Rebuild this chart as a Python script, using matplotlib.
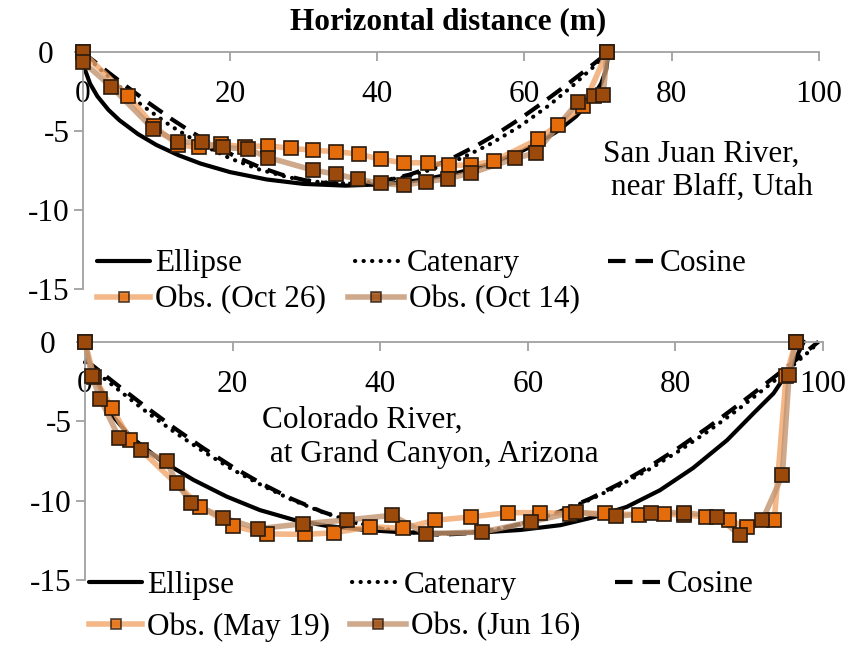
import matplotlib.pyplot as plt
from matplotlib.lines import Line2D

plt.rcParams['font.family'] = 'serif'
plt.rcParams['font.serif'] = ['Liberation Serif', 'DejaVu Serif']
plt.rcParams['axes.unicode_minus'] = False

W, H = 847, 650
FS = 22.5

# ---- San Juan River (top panel) ----
sj_ell_x = [0, 0.3, 1, 2, 3.5, 5, 7.5, 10, 13, 16, 20, 25, 30, 35.7, 41, 46, 51, 55, 59, 62, 64.5, 67, 69, 70.4, 71.1, 71.4]
sj_ell_y = [0, -1.09, -1.99, -2.79, -3.65, -4.31, -5.18, -5.87, -6.52, -7.05, -7.59, -8.06, -8.34, -8.45,
            -8.36, -8.09, -7.63, -7.11, -6.40, -5.71, -4.99, -4.06, -3.05, -1.99, -1.09, 0]
sj_cat_x = [0, 2, 5, 8, 12, 16, 20, 24, 28, 32, 35.7, 39.4, 43.4, 47.4, 51.4, 55.4, 59.4, 63.4, 66.4, 69.4, 71.4]
sj_cat_y = [0, -0.91, -2.18, -3.34, -4.68, -5.80, -6.72, -7.43, -7.93, -8.22, -8.31,
            -8.22, -7.93, -7.43, -6.72, -5.80, -4.68, -3.34, -2.18, -0.91, 0]
sj_cos_x = [0, 3, 6, 9, 12, 15, 18, 21, 24, 27, 30, 33, 35.7, 38.4, 41.4, 44.4, 47.4, 50.4, 53.4, 56.4,
            59.4, 62.4, 65.4, 68.4, 71.4]
sj_cos_y = [0, -1.10, -2.18, -3.22, -4.21, -5.12, -5.94, -6.66, -7.27, -7.75, -8.09, -8.29, -8.35,
            -8.29, -8.09, -7.75, -7.27, -6.66, -5.94, -5.12, -4.21, -3.22, -2.18, -1.10, 0]
oct26_x = [0, 6.1, 9.7, 12.9, 15.8, 18.8, 22.1, 25.2, 28.3, 31.3, 34.4, 37.5, 40.5, 43.6, 46.9, 49.7,
           52.8, 55.8, 61.8, 64.5, 68.0, 71.2]
oct26_y = [0, -2.75, -4.7, -5.85, -6.03, -5.84, -5.99, -5.92, -6.09, -6.2, -6.3, -6.45, -6.79, -7.0,
           -7.0, -7.15, -7.15, -6.9, -5.52, -4.61, -3.4, 0]
oct14_x = [0, 0, 3.9, 9.6, 12.9, 16.2, 19.1, 22.5, 25.2, 31.3, 34.4, 37.4, 40.5, 43.6, 46.6, 49.6,
           52.8, 58.7, 61.5, 67.3, 69.4, 70.7, 71.2]
oct14_y = [0, -0.6, -2.18, -4.87, -5.67, -5.71, -6.03, -6.14, -6.67, -7.47, -7.72, -8.04, -8.31, -8.42,
           -8.2, -8.0, -7.64, -6.73, -6.37, -3.13, -2.8, -2.7, 0]

# ---- Colorado River (bottom panel) ----
co_ell_x = [0, 0.2, 0.7, 2.0, 3.8, 6.1, 10.2, 14.7, 19.2, 23.7, 28.2, 32.8, 38, 43, 48.7, 54, 59, 64.4,
            68.9, 73.4, 77.9, 82.4, 87.0, 90.6, 93.3, 95.1, 96.4, 97.3, 97.4]
co_ell_y = [0, -0.6, -1.5, -2.85, -4.7, -5.95, -7.45, -8.7, -9.75, -10.6, -11.2, -11.6, -11.85, -12.0,
            -12.05, -12.0, -11.85, -11.55, -11.05, -10.4, -9.35, -7.95, -6.2, -4.5, -3.25, -2.0, -0.95,
            -0.1, 0]
co_cat_x = [0, 2, 5, 8, 12, 16, 20, 24, 28, 32, 36, 40, 44, 48.2, 52.4, 56.4, 60.4, 64.4, 68.4, 72.4,
            76.4, 80.4, 84.4, 88.4, 91.4, 94.4, 96.4, 98.4, 99.4]
co_cat_y = [-1.3, -2.1, -3.2, -4.3, -5.65, -6.9, -8.05, -9.05, -9.95, -10.7, -11.3, -11.75, -12.0, -12.1,
            -12.0, -11.75, -11.3, -10.7, -9.95, -9.05, -8.05, -6.9, -5.65, -4.3, -3.2, -2.1, -1.3, -0.5, 0]
co_cos_x = [0, 2, 5, 8, 12, 16, 20, 24, 28, 32, 36, 40, 44, 48.2, 52.4, 56.4, 60.4, 64.4, 68.4, 72.4,
            76.4, 80.4, 84.4, 88.4, 91.4, 94.4, 96.4, 98.4, 99.4]
co_cos_y = [-1.12, -1.86, -2.95, -4.02, -5.40, -6.69, -7.88, -8.95, -9.89, -10.68, -11.31, -11.77, -12.05,
            -12.15, -12.05, -11.77, -11.31, -10.68, -9.89, -8.95, -7.88, -6.69, -5.40, -4.02, -2.95,
            -1.86, -1.12, -0.37, 0]
may19_x = [0, 1.2, 3.6, 6.1, 15.6, 20.1, 24.6, 29.8, 33.7, 38.6, 43.1, 47.4, 52.3, 57.3, 61.7, 65.7,
           70.5, 75.1, 78.5, 81.2, 84.1, 87.3, 89.7, 93.4, 95.0, 96.3]
may19_y = [0, -2.2, -4.15, -6.16, -10.38, -11.6, -12.1, -12.13, -12.03, -11.65, -11.75, -11.24, -11.03,
           -10.76, -10.76, -10.82, -10.8, -10.9, -10.86, -10.9, -11.03, -11.24, -11.66, -11.24, -2.17, 0]
jun16_x = [0, 0.9, 2.1, 4.6, 7.6, 11.1, 12.4, 14.4, 18.7, 23.5, 29.6, 35.5, 41.6, 46.2, 53.8, 60.4,
           66.5, 72.0, 76.7, 81.2, 85.7, 88.8, 91.8, 94.5, 95.4, 96.3]
jun16_y = [0, -2.15, -3.6, -6.05, -6.79, -7.53, -8.9, -10.13, -11.08, -11.77, -11.46, -11.22, -10.93,
           -12.08, -11.98, -11.35, -10.7, -11.0, -10.76, -10.76, -11.01, -12.19, -11.22, -8.39, -2.11, 0]

x_ticks = [0, 20, 40, 60, 80, 100]
y_ticks = [-15, -10, -5, 0]
y_labels = ['-15', '-10', '-5', '0  ']   # Excel pads the positive label on the right

GRAY = '#A0A0A0'
ORANGE = '#E46C0A'
BROWN = '#9C4A0C'
EDGE = '#2A1A0E'

ell_kw = dict(color='black', lw=3.0, solid_capstyle='round')
cat_kw = dict(color='black', lw=3.0, linestyle=(0, (0.05, 2.0)), dash_capstyle='round')
cos_kw = dict(color='black', lw=3.0, linestyle=(0, (4.2, 2.4)))
obs_a_kw = dict(color='#F2A56A', alpha=0.8, lw=4, marker='s', ms=10.5, mfc=ORANGE, mec=EDGE, mew=1.2)
obs_b_kw = dict(color='#C39470', alpha=0.8, lw=4, marker='s', ms=10.5, mfc=BROWN, mec=EDGE, mew=1.2)


def panel(ax, ell, cat, cos, obs_a, obs_b):
    ax.plot(*ell, clip_on=False, zorder=2, **ell_kw)
    ax.plot(*cat, clip_on=False, zorder=2, **cat_kw)
    ax.plot(*cos, clip_on=False, zorder=2, **cos_kw)
    for obs, k in ((obs_a, obs_a_kw), (obs_b, obs_b_kw)):
        # translucent line first, opaque squares on top
        ax.plot(*obs, color=k['color'], alpha=k['alpha'], lw=k['lw'], clip_on=False, zorder=3)
        ax.plot(*obs, ls='none', marker='s', ms=k['ms'], mfc=k['mfc'], mec=k['mec'], mew=k['mew'],
                clip_on=False, zorder=4)
    ax.set_xlim(0, 100)
    ax.set_ylim(-15, 0)
    ax.set_xticks(x_ticks)
    ax.set_yticks(y_ticks)
    ax.set_yticklabels(y_labels)
    for s in ('bottom', 'right'):
        ax.spines[s].set_visible(False)
    for s in ('top', 'left'):
        ax.spines[s].set_color(GRAY)
        ax.spines[s].set_linewidth(1.3)
    ax.tick_params(axis='x', top=True, bottom=False, labeltop=True, labelbottom=False,
                   direction='in', length=6.5, width=1.3, color=GRAY, pad=-41, labelsize=FS)
    ax.tick_params(axis='y', direction='out', length=6.5, width=1.3, color=GRAY, pad=3, labelsize=FS)
    ax.patch.set_alpha(0)


def legend_entry(fig, handle, label, x, y, hl):
    fig.legend([handle], [label], loc='center left', bbox_to_anchor=(x / W, 1 - y / H),
               frameon=False, borderpad=0, borderaxespad=0, handlelength=hl, handletextpad=0.15,
               fontsize=FS, markerscale=0.7)


fig = plt.figure(figsize=(W / 100, H / 100), dpi=100)
ax1 = fig.add_axes([82.7 / W, 1 - 289 / H, 736.3 / W, 236.7 / H])
ax2 = fig.add_axes([85 / W, 1 - 580 / H, 738 / W, 238.3 / H])

panel(ax1, (sj_ell_x, sj_ell_y), (sj_cat_x, sj_cat_y), (sj_cos_x, sj_cos_y),
      (oct26_x, oct26_y), (oct14_x, oct14_y))
panel(ax2, (co_ell_x, co_ell_y), (co_cat_x, co_cat_y), (co_cos_x, co_cos_y),
      (may19_x, may19_y), (jun16_x, jun16_y))

fig.text(448 / W, 1 - 22 / H, 'Horizontal distance (m)', ha='center', va='center',
         fontsize=FS, fontweight='bold')
ax1.text(70.7, -7.5, 'San Juan River,\n near Blaff, Utah', ha='left', va='center', fontsize=FS)
ax2.text(24.0, -6.05, 'Colorado River,\n at Grand Canyon, Arizona', ha='left', va='center', fontsize=FS)

h_ell = Line2D([], [], **ell_kw)
h_cat = Line2D([], [], **cat_kw)
h_cos = Line2D([], [], **cos_kw)
h_a = Line2D([], [], **obs_a_kw)
h_b = Line2D([], [], **obs_b_kw)

rows = [(264, 300, 'Obs. (Oct 26)', 'Obs. (Oct 14)', 97, 355, 608, 97, 348),
        (585, 627, 'Obs. (May 19)', 'Obs. (Jun 16)', 89, 352, 615, 89, 350)]
for y1, y2, la, lb, xe, xc, xs, xa, xb in rows:
    legend_entry(fig, h_ell, 'Ellipse', xe, y1, 1.7)
    legend_entry(fig, h_cat, 'Catenary', xc, y1, 1.5)
    legend_entry(fig, h_cos, 'Cosine', xs, y1, 1.5)
    legend_entry(fig, h_a, la, xa, y2, 1.7)
    legend_entry(fig, h_b, lb, xb, y2, 1.8)

fig.savefig('out.png', dpi=100)
